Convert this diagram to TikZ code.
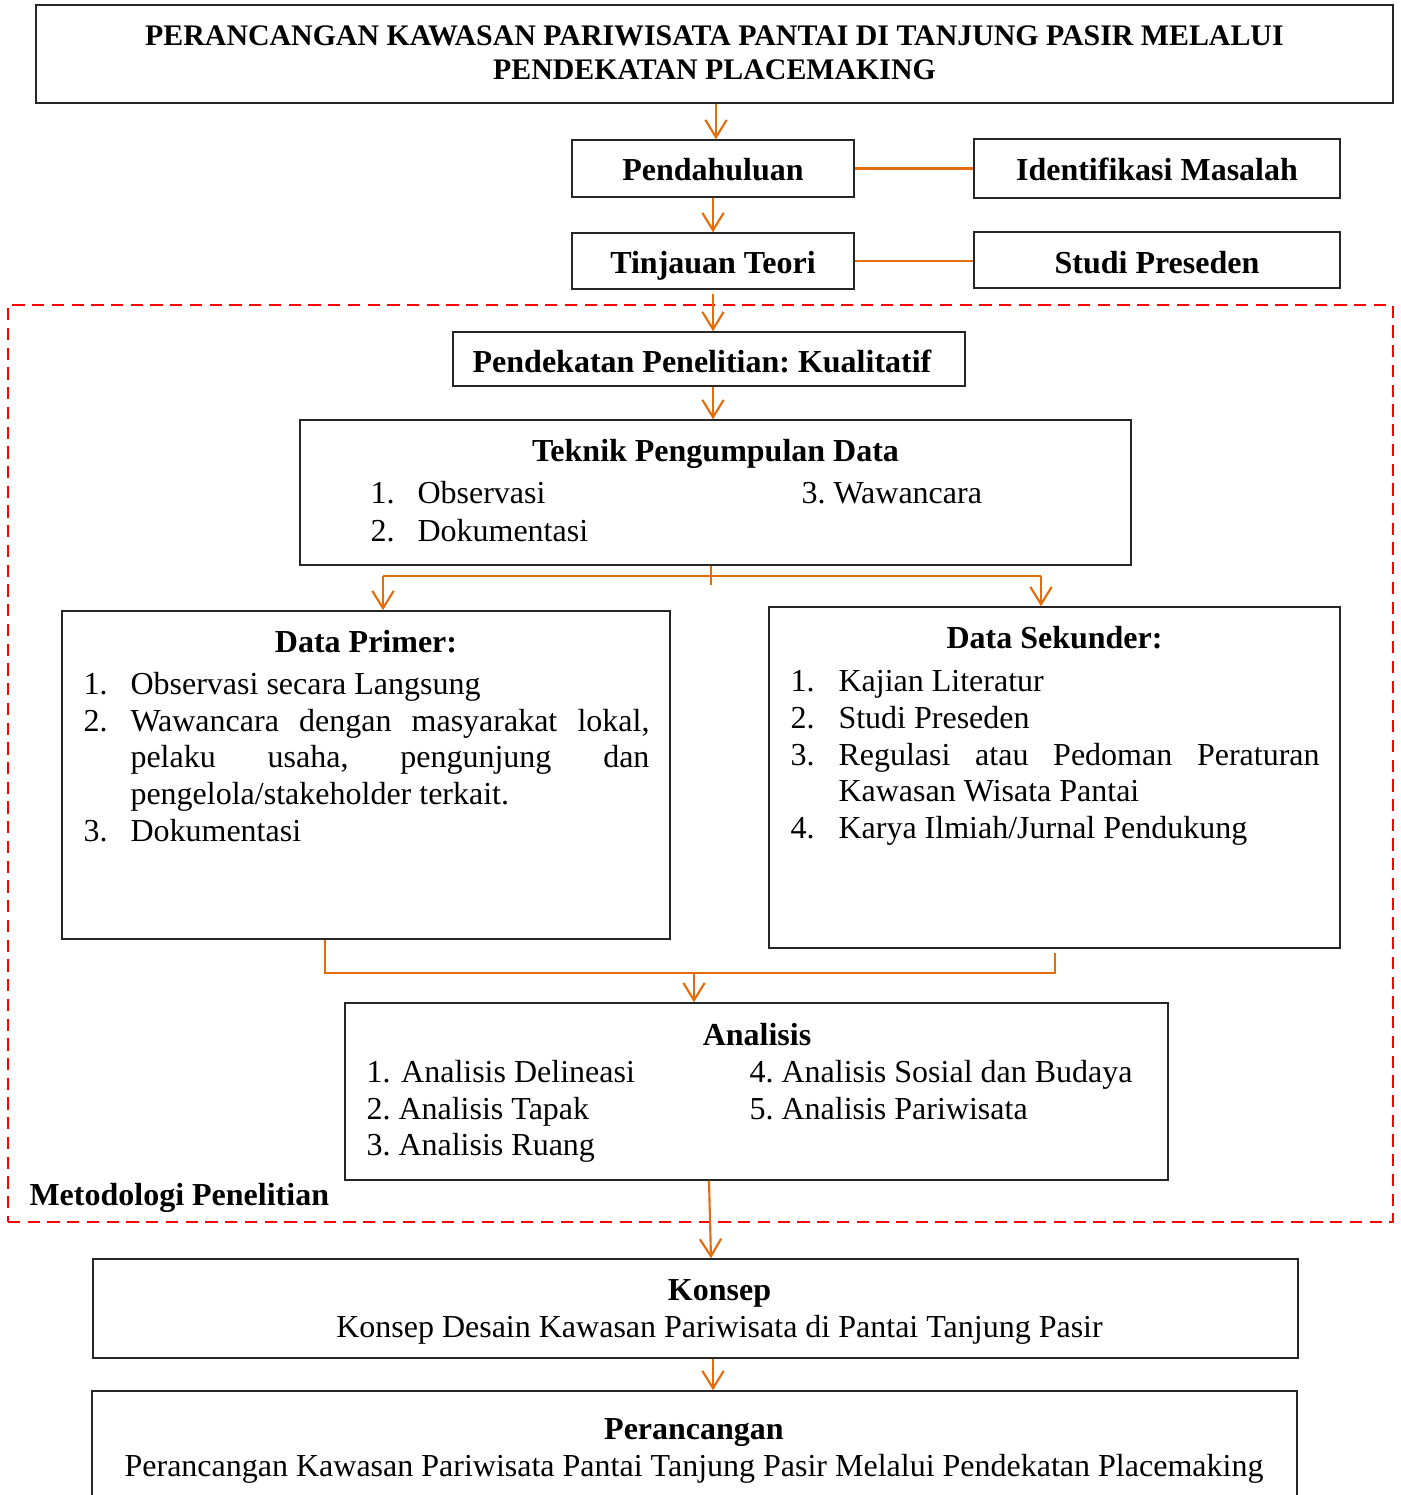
\documentclass[tikz,border=0pt]{standalone}
\usepackage{fontspec}
\setmainfont{Liberation Serif}
\usetikzlibrary{arrows.meta,fit}
\definecolor{flow}{RGB}{228,108,10}
\definecolor{frame}{RGB}{255,0,0}
\frenchspacing

\begin{document}
\begin{tikzpicture}[x=0.375pt,y=-0.375pt,
  box/.style={draw=black!85,line width=0.55pt,inner sep=0pt},
  conn/.style={draw=flow,line width=0.8pt},
  arr/.style={conn,-{Straight Barb[length=6.5pt,width=8pt]}},
  txt/.style={anchor=base,inner sep=0pt,yshift=-0.75pt,font=\fontsize{12}{13.85}\selectfont},
  hd/.style={txt,font=\fontsize{12}{13.85}\selectfont\bfseries},
  lft/.style={txt,anchor=base west},
]
\useasboundingbox (0,0) rectangle (1400,1495);

% dashed frame around the research method
\node[fit={(8,305) (1393,1222)},inner sep=0pt,draw=frame,line width=0.95pt,
      dash pattern=on 4.6pt off 2.8pt] (method) {};
\node[hd,anchor=base west] (methodlbl) at (29,1203) {Metodologi Penelitian};

% boxes
\node[box,fit={(36,5) (1393,103)}] (title) {};
\node[box,fit={(572,140) (854,197)}] (pend) {};
\node[box,fit={(974,139) (1340,198)}] (ident) {};
\node[box,fit={(572,233) (854,289)}] (tinj) {};
\node[box,fit={(974,232) (1340,288)}] (stud) {};
\node[box,fit={(453,332) (965,386)}] (appr) {};
\node[box,fit={(300,420) (1131,565)}] (tek) {};
\node[box,fit={(62,611) (670,939)}] (prim) {};
\node[box,fit={(769,607) (1340,948)}] (sek) {};
\node[box,fit={(345,1003) (1168,1180)}] (ana) {};
\node[box,fit={(93,1259) (1298,1358)}] (kon) {};
\node[box,fit={(92,1391) (1297,1500)}] (per) {};

% texts
\node[hd,font=\fontsize{11.2}{12.9}\selectfont\bfseries] (titleA) at (714.5,44)
  {PERANCANGAN KAWASAN PARIWISATA PANTAI DI TANJUNG PASIR MELALUI};
\node[hd,font=\fontsize{11.2}{12.9}\selectfont\bfseries] (titleB) at (714.5,78)
  {PENDEKATAN PLACEMAKING};
\node[hd] (pendT) at (713,178) {Pendahuluan};
\node[hd] (identT) at (1157,178) {Identifikasi Masalah};
\node[hd] (tinjT) at (713,271) {Tinjauan Teori};
\node[hd] (studT) at (1157,271) {Studi Preseden};
\node[hd] (apprT) at (702,370) {Pendekatan Penelitian: Kualitatif};

\node[hd] (tekT) at (715.5,459) {Teknik Pengumpulan Data};
\node[lft] (tekN1) at (370,501.7) {1.};
\node[lft] (tekI1) at (417,501.7) {Observasi};
\node[lft] (tekN2) at (370,539) {2.};
\node[lft] (tekI2) at (417,539) {Dokumentasi};
\node[lft] (tekI3) at (801,501.7) {3. Wawancara};

\node[hd] (primT) at (366,650) {Data Primer:};
\node[lft] (primN1) at (83,692) {1.};
\node[lft] (primI1) at (130,692) {Observasi secara Langsung};
\node[lft] (primN2) at (83,729) {2.};
\node[lft,text width=194.6pt,align=justify] (primI2) at (130,729)
  {Wawancara dengan masyarakat lokal,\linebreak pelaku usaha, pengunjung dan\linebreak pengelola/stakeholder terkait.};
\node[lft] (primN3) at (83,839.5) {3.};
\node[lft] (primI3) at (130,839.5) {Dokumentasi};

\node[hd] (sekT) at (1054.5,646) {Data Sekunder:};
\node[lft] (sekN1) at (790,689) {1.};
\node[lft] (sekI1) at (838,689) {Kajian Literatur};
\node[lft] (sekN2) at (790,726) {2.};
\node[lft] (sekI2) at (838,726) {Studi Preseden};
\node[lft] (sekN3) at (790,763) {3.};
\node[lft,text width=180.4pt,align=justify] (sekI3) at (838,763)
  {Regulasi atau Pedoman Peraturan\linebreak Kawasan Wisata Pantai};
\node[lft] (sekN4) at (790,836) {4.};
\node[lft] (sekI4) at (838,836) {Karya Ilmiah/Jurnal Pendukung};

\node[hd] (anaT) at (757,1043) {Analisis};
\node[lft] (ana1) at (366,1080) {1.\hspace{1pt} Analisis Delineasi};
\node[lft] (ana2) at (366,1117) {2. Analisis Tapak};
\node[lft] (ana3) at (366,1153) {3. Analisis Ruang};
\node[lft] (ana4) at (749,1080) {4. Analisis Sosial dan Budaya};
\node[lft] (ana5) at (749,1117) {5. Analisis Pariwisata};

\node[hd] (konT) at (719.5,1298) {Konsep};
\node[txt] (konS) at (719.5,1335) {Konsep Desain Kawasan Pariwisata di Pantai Tanjung Pasir};
\node[hd] (perT) at (694,1437) {Perancangan};
\node[txt] (perS) at (694,1474) {Perancangan Kawasan Pariwisata Pantai Tanjung Pasir Melalui Pendekatan Placemaking};

% helper points of the connectors
\coordinate (tekDrop) at (711,585);
\coordinate (splitL) at (383,576);
\coordinate (splitR) at (1041,576);
\coordinate (mergeL) at (325,973);
\coordinate (mergeR) at (1055,973);
\coordinate (sekEnd) at (1055,953);
\coordinate (mergeMid) at (694,973);

% connectors
\draw[arr] (title.south -| 716,0) -- (pend.north -| 716,0);
\draw[arr] (pend.south -| 713,0) -- (tinj.north -| 713,0);
\draw[arr] (tinj.south -| 713,0) ++(0,4) -- (appr.north -| 713,0);
\draw[arr] (appr.south -| 713,0) -- (tek.north -| 713,0);
\draw[conn] (pend.east) -- (pend.east -| ident.west);
\draw[conn] (tinj.east) -- (tinj.east -| stud.west);

\draw[conn] (tek.south -| tekDrop) -- (tekDrop);
\draw[conn] (splitL) -- (splitR);
\draw[arr] (splitL) -- (prim.north -| splitL);
\draw[arr] (splitR) -- (sek.north -| splitR);

\draw[conn] (prim.south -| mergeL) -- (mergeL) -- (mergeR) -- (sekEnd);
\draw[arr] (mergeMid) -- (ana.north -| mergeMid);

\draw[arr] (ana.south -| 709,0) -- (kon.north -| 711,0);
\draw[arr] (kon.south -| 713,0) -- (per.north -| 713,0);
\end{tikzpicture}
\end{document}
